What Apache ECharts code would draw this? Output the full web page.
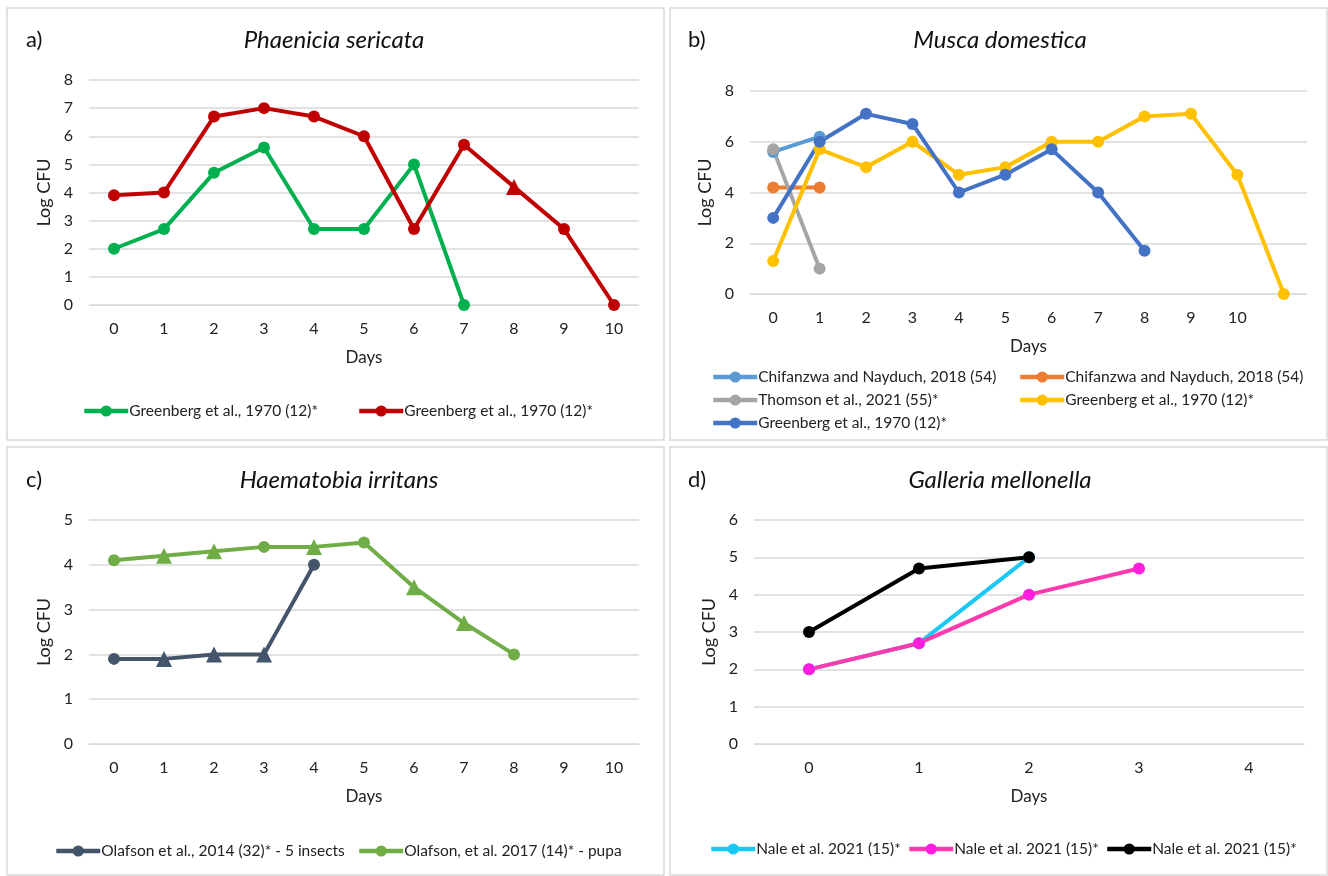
<!DOCTYPE html>
<html>
<head>
<meta charset="utf-8">
<script src="https://cdn.jsdelivr.net/npm/echarts@6/dist/echarts.min.js"></script>
<style>
  html, body { margin: 0; padding: 0; background: #fff; }
  #chart { width: 1328px; height: 876px; }
</style>
</head>
<body>
<div id="chart"></div>
<script>
// tick labels
const days10 = ['0', '1', '2', '3', '4', '5', '6', '7', '8', '9', '10'];
const daysB = ['0', '1', '2', '3', '4', '5', '6', '7', '8', '9', '10', ''];
const daysD = ['0', '1', '2', '3', '4'];

// a) Phaenicia sericata
const aGreen = [2, 2.7, 4.7, 5.6, 2.7, 2.7, 5, 0];
const aRed = [3.9, 4, 6.7, 7, 6.7, 6, 2.7, 5.7, 4.2, 2.7, 0];
const aRedTri = [8];

// b) Musca domestica
const bLightBlue = [5.6, 6.2];
const bOrange = [4.2, 4.2];
const bGray = [5.7, 1.0];
const bYellow = [1.3, 5.7, 5, 6, 4.7, 5, 6, 6, 7, 7.1, 4.7, 0];
const bBlue = [3, 6, 7.1, 6.7, 4, 4.7, 5.7, 4, 1.7];

// c) Haematobia irritans
const cDark = [1.9, 1.9, 2, 2, 4];
const cDarkTri = [1, 2, 3];
const cGreen = [4.1, 4.2, 4.3, 4.4, 4.4, 4.5, 3.5, 2.7, 2];
const cGreenTri = [1, 2, 4, 6, 7];

// d) Galleria mellonella
const dCyan = [2, 2.7, 5];
const dPink = [2, 2.7, 4, 4.7];
const dBlack = [3, 4.7, 5];

const labels = {
  a1: 'Greenberg et al., 1970 (12)*',
  a2: 'Greenberg et al., 1970 (12)*',
  b1: 'Chifanzwa and Nayduch, 2018 (54)',
  b2: 'Chifanzwa and Nayduch, 2018 (54)',
  b3: 'Thomson et al., 2021 (55)*',
  b4: 'Greenberg et al., 1970 (12)*',
  b5: 'Greenberg et al., 1970 (12)*',
  c1: 'Olafson et al., 2014 (32)* - 5 insects',
  c2: 'Olafson, et al. 2017 (14)* - pupa',
  d1: 'Nale et al. 2021 (15)*',
  d2: 'Nale et al. 2021 (15)*',
  d3: 'Nale et al. 2021 (15)*'
};

const FONT = 'Lato, Roboto, sans-serif';
const GRID_COLOR = '#d9d9d9';

function pts(values, tri) {
  return values.map((v, i) =>
    tri && tri.includes(i) ? { value: v, symbol: 'triangle', symbolSize: 16 } : v
  );
}

function line(id, idx, values, color, tri, markerColor) {
  return {
    id: id,
    name: id,
    type: 'line',
    xAxisIndex: idx,
    yAxisIndex: idx,
    data: pts(values, tri),
    symbol: 'circle',
    symbolSize: 12,
    showAllSymbol: true,
    lineStyle: { color: color, width: 4 },
    itemStyle: { color: markerColor || color },
    emphasis: { disabled: true },
    animation: false
  };
}

function xAx(idx, cats) {
  return {
    type: 'category',
    gridIndex: idx,
    data: cats,
    boundaryGap: true,
    name: 'Days',
    nameLocation: 'middle',
    nameGap: 44,
    nameTextStyle: { fontFamily: FONT, fontSize: 17, color: '#222' },
    axisLine: { show: true, lineStyle: { color: GRID_COLOR } },
    axisTick: { show: false },
    axisLabel: { fontFamily: FONT, fontSize: 16, color: '#222', margin: 16, interval: 0 }
  };
}

function yAx(idx, max, step) {
  return {
    type: 'value',
    gridIndex: idx,
    min: 0,
    max: max,
    interval: step,
    name: 'Log CFU',
    nameLocation: 'middle',
    nameGap: 36,
    nameTextStyle: { fontFamily: FONT, fontSize: 18, color: '#222' },
    axisLine: { show: false },
    axisTick: { show: false },
    axisLabel: { fontFamily: FONT, fontSize: 16, color: '#222', margin: 16 },
    splitLine: { show: true, lineStyle: { color: GRID_COLOR, width: 1.5 } }
  };
}

function leg(names, left, top, orient) {
  return {
    data: names,
    left: left,
    top: top,
    padding: 0,
    orient: orient || 'horizontal',
    itemWidth: 44,
    itemHeight: 14,
    itemGap: 7,
    selectedMode: false,
    lineStyle: { width: 4.5 },
    formatter: n => labels[n],
    textStyle: { fontFamily: FONT, fontSize: 15.5, color: '#222', padding: [0, 0, 0, -4] }
  };
}

function ttl(text, x, y) {
  return {
    text: text,
    left: x,
    top: y,
    padding: 0,
    textAlign: 'center',
    textStyle: { fontFamily: FONT, fontSize: 24, fontStyle: 'italic', fontWeight: 'normal', color: '#111' }
  };
}

function letter(text, x, y) {
  return {
    type: 'text',
    left: x,
    top: y,
    style: { text: text, fontFamily: FONT, fontSize: 22, fill: '#111' }
  };
}

function box(x, y, w, h) {
  return {
    type: 'rect',
    shape: { x: x, y: y, width: w, height: h },
    style: { fill: 'none', stroke: GRID_COLOR, lineWidth: 1.5 },
    silent: true
  };
}

const option = {
  animation: false,
  title: [
    ttl('Phaenicia sericata', 334, 28),
    ttl('Musca domestica', 1000, 28),
    ttl('Haematobia irritans', 339, 468),
    ttl('Galleria mellonella', 1000, 468)
  ],
  graphic: [
    box(7, 8, 657, 432),
    box(670, 8, 657, 432),
    box(7, 447, 657, 428),
    box(670, 447, 657, 428),
    letter('a)', 26, 29),
    letter('b)', 688, 29),
    letter('c)', 26, 469),
    letter('d)', 688, 469)
  ],
  grid: [
    { left: 89, top: 80, width: 550, height: 225 },
    { left: 750, top: 91, width: 557, height: 203 },
    { left: 89, top: 520, width: 550, height: 224 },
    { left: 754, top: 520, width: 550, height: 224 }
  ],
  xAxis: [xAx(0, days10), xAx(1, daysB), xAx(2, days10), xAx(3, daysD)],
  yAxis: [yAx(0, 8, 1), yAx(1, 8, 2), yAx(2, 5, 1), yAx(3, 6, 1)],
  legend: [
    leg(['a1'], 82, 403),
    leg(['a2'], 357, 403),
    leg(['b1', 'b3', 'b5'], 711, 369, 'vertical'),
    leg(['b2', 'b4'], 1018, 369, 'vertical'),
    leg(['c1'], 54, 843),
    leg(['c2'], 357, 843),
    leg(['d1'], 709, 841),
    leg(['d2'], 907, 841),
    leg(['d3'], 1105, 841)
  ],
  series: [
    line('a1', 0, aGreen, '#00B050'),
    line('a2', 0, aRed, '#C00000', aRedTri),
    line('b1', 1, bLightBlue, '#5B9BD5'),
    line('b2', 1, bOrange, '#ED7D31'),
    line('b3', 1, bGray, '#A5A5A5'),
    line('b4', 1, bYellow, '#FFC000'),
    line('b5', 1, bBlue, '#4472C4'),
    line('c1', 2, cDark, '#44546A', cDarkTri),
    line('c2', 2, cGreen, '#70AD47', cGreenTri),
    line('d1', 3, dCyan, '#19C8F5'),
    line('d2', 3, dPink, '#FF3AAE', null, '#FF1DE0'),
    line('d3', 3, dBlack, '#000000')
  ]
};

const chart = echarts.init(document.getElementById('chart'));
chart.setOption(option);
</script>
</body>
</html>
